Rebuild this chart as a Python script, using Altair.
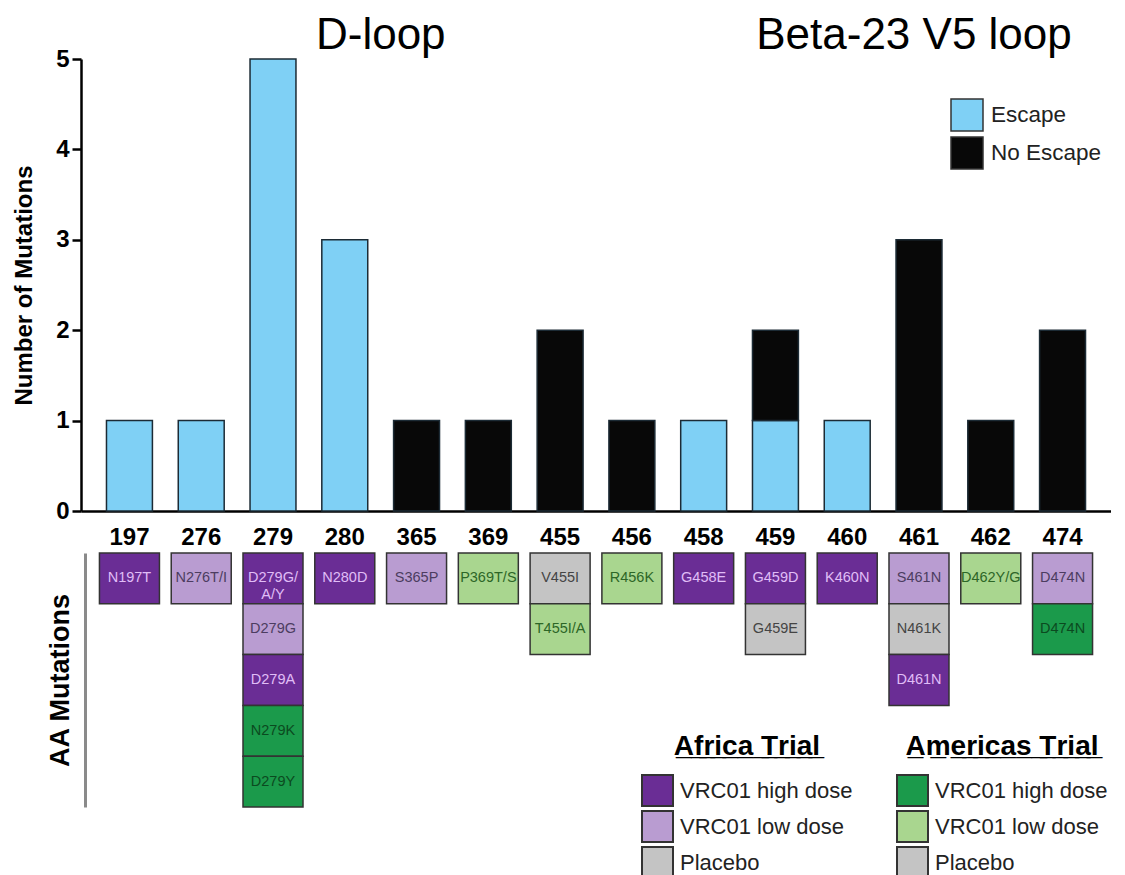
import altair as alt
import pandas as pd

# ---------------- data ----------------
positions = ["197", "276", "279", "280", "365", "369", "455",
             "456", "458", "459", "460", "461", "462", "474"]
escape_counts = [1, 1, 5, 3, 0, 0, 0, 0, 1, 1, 1, 0, 0, 0]
no_escape_counts = [0, 0, 0, 0, 1, 1, 2, 1, 0, 1, 0, 3, 1, 2]

status_names = ["Escape", "No Escape"]
status_colors = ["#7fd0f5", "#080808"]

region_names = ["D-loop", "Beta-23 V5 loop"]
region_anchor = ["280", "461"]

mut_pos = ["197", "276", "279", "279", "279", "279", "279", "280", "365", "369",
           "455", "455", "456", "458", "459", "459", "460", "461", "461", "461",
           "462", "474", "474"]
mut_label = ["N197T", "N276T/I", "D279G/\nA/Y", "D279G", "D279A", "N279K", "D279Y",
             "N280D", "S365P", "P369T/S", "V455I", "T455I/A", "R456K", "G458E",
             "G459D", "G459E", "K460N", "S461N", "N461K", "D461N", "D462Y/G",
             "D474N", "D474N"]
mut_trial = ["Africa", "Africa", "Africa", "Africa", "Africa", "Americas", "Americas",
             "Africa", "Africa", "Americas", "Africa", "Americas", "Americas", "Africa",
             "Africa", "Africa", "Africa", "Africa", "Africa", "Africa", "Americas",
             "Africa", "Americas"]
mut_dose = ["VRC01 high dose", "VRC01 low dose", "VRC01 high dose", "VRC01 low dose",
            "VRC01 high dose", "VRC01 high dose", "VRC01 high dose", "VRC01 high dose",
            "VRC01 low dose", "VRC01 low dose", "Placebo", "VRC01 low dose",
            "VRC01 low dose", "VRC01 high dose", "VRC01 high dose", "Placebo",
            "VRC01 high dose", "VRC01 low dose", "Placebo", "VRC01 high dose",
            "VRC01 low dose", "VRC01 low dose", "VRC01 high dose"]

doses = ["VRC01 high dose", "VRC01 low dose", "Placebo"]
africa_colors = ["#6a2d95", "#b99cd1", "#c4c4c4"]
americas_colors = ["#1b9a4b", "#a9d68f", "#c4c4c4"]

text_groups = ["Africa|VRC01 high dose", "Africa|VRC01 low dose", "Africa|Placebo",
               "Americas|VRC01 high dose", "Americas|VRC01 low dose", "Americas|Placebo"]
text_colors = ["#e0bdf7", "#4c3c60", "#444444", "#0b4a20", "#2d6627", "#444444"]

FONT = "Liberation Sans"

# ---------------- tables ----------------
bar_rows = []
for p, e, n in zip(positions, escape_counts, no_escape_counts):
    if e > 0:
        bar_rows.append({"pos": p, "status": "Escape", "count": e, "stack_order": 0})
    if n > 0:
        bar_rows.append({"pos": p, "status": "No Escape", "count": n, "stack_order": 1})
df_bars = pd.DataFrame(bar_rows)

df_mut = pd.DataFrame({"pos": mut_pos, "label": mut_label,
                       "trial": mut_trial, "dose": mut_dose})
df_mut["row"] = df_mut.groupby("pos").cumcount()
df_mut["row_end"] = df_mut["row"] + 1
df_mut["row_mid"] = df_mut["row"] + 0.5
df_mut["tgroup"] = df_mut["trial"] + "|" + df_mut["dose"]

df_regions = pd.DataFrame({"region": region_names, "pos": region_anchor})

# ---------------- scales ----------------
def xscale():
    return alt.Scale(domain=positions, paddingInner=0.36, paddingOuter=0.355)

W = 1030

# ---------------- top panel ----------------
bars = alt.Chart(df_bars).mark_bar(stroke="#1c2b35", strokeWidth=1.5).encode(
    x=alt.X("pos:N", scale=xscale(), sort=positions,
            axis=alt.Axis(title=None, labelAngle=0, labelFont=FONT, labelFontSize=24,
                          labelFontWeight="bold", labelColor="black", ticks=False,
                          domainColor="black", domainWidth=2.5, labelPadding=14)),
    y=alt.Y("count:Q", stack="zero",
            scale=alt.Scale(domain=[0, 5], nice=False),
            axis=alt.Axis(values=[0, 1, 2, 3, 4, 5], format="d", grid=False,
                          title="Number of Mutations", titleFont=FONT, titleFontSize=24,
                          titleFontWeight="bold", titleColor="black", titlePadding=19,
                          labelFont=FONT, labelFontSize=24, labelFontWeight="bold",
                          labelColor="black", labelPadding=3, tickSize=9, tickWidth=2.5,
                          tickColor="black", domainColor="black", domainWidth=2.5)),
    fill=alt.Fill("status:N", scale=alt.Scale(domain=status_names, range=status_colors),
                  legend=alt.Legend(title=None, orient="none", legendX=869, legendY=39,
                                    symbolType="square", symbolSize=1024,
                                    symbolStrokeColor="#333333", symbolStrokeWidth=1.5,
                                    symbolOpacity=1, labelFont=FONT, labelFontSize=22.5,
                                    labelColor="#222222", labelOffset=7, rowPadding=0,
                                    labelLimit=300, padding=0)),
    order=alt.Order("stack_order:Q"),
)

region_layers = []
for name, dx in zip(region_names, [36, -5]):
    region_layers.append(
        alt.Chart(df_regions).transform_filter(alt.datum.region == name)
        .mark_text(font=FONT, fontSize=44, color="black", baseline="alphabetic",
                   align="center", dx=dx)
        .encode(x=alt.X("pos:N", scale=xscale(), sort=positions),
                y=alt.value(-10),
                text="region:N")
    )

top = alt.layer(bars, *region_layers).properties(width=W, height=452)

# ---------------- bottom panel ----------------
yaxis_bottom = alt.Axis(title="AA Mutations", titleFont=FONT, titleFontSize=27,
                        titleFontWeight="bold", titleColor="black", titlePadding=11,
                        labels=False, ticks=False, grid=False, domainColor="#8a8a8a",
                        domainWidth=3, offset=-4)
yscale_bottom = alt.Scale(domain=[0, 5], reverse=True, nice=False, zero=False)

def trial_legend(title, lx):
    return alt.Legend(title=title, orient="none", legendX=lx, legendY=180,
                      titleFont=FONT, titleFontSize=28, titleFontWeight="bold",
                      titleColor="black", titleAnchor="middle", titlePadding=13,
                      titleLimit=400,
                      symbolType="square", symbolSize=961, symbolStrokeColor="#333333",
                      symbolStrokeWidth=2, symbolOpacity=1, labelFont=FONT,
                      labelFontSize=22, labelColor="#222222", labelOffset=6,
                      labelLimit=300, rowPadding=-3, padding=0)

def underline(s):
    return "".join(ch + "\u0332" for ch in s)

base = alt.Chart(df_mut)
boxes_af = base.transform_filter(alt.datum.trial == "Africa").mark_bar(
    width=60, stroke="#333333", strokeWidth=1.5).encode(
    x=alt.X("pos:N", scale=xscale(), sort=positions, axis=None),
    y=alt.Y("row:Q", scale=yscale_bottom, axis=yaxis_bottom),
    y2="row_end:Q",
    fill=alt.Fill("dose:N", scale=alt.Scale(domain=doses, range=africa_colors),
                  legend=trial_legend(underline("Africa Trial"), 560)),
)
boxes_am = base.transform_filter(alt.datum.trial == "Americas").mark_bar(
    width=60, stroke="#333333", strokeWidth=1.5).encode(
    x=alt.X("pos:N", scale=xscale(), sort=positions, axis=None),
    y=alt.Y("row:Q", scale=yscale_bottom, axis=yaxis_bottom),
    y2="row_end:Q",
    fill=alt.Fill("dose:N", scale=alt.Scale(domain=doses, range=americas_colors),
                  legend=trial_legend(underline("Americas Trial"), 815)),
)
labels = base.mark_text(font=FONT, fontSize=14.5, lineBreak="\n", baseline="middle",
                        align="center").encode(
    x=alt.X("pos:N", scale=xscale(), sort=positions, axis=None),
    y=alt.Y("row_mid:Q", scale=yscale_bottom, axis=yaxis_bottom),
    text="label:N",
    color=alt.Color("tgroup:N", scale=alt.Scale(domain=text_groups, range=text_colors),
                    legend=None),
)

bottom = alt.layer(boxes_af, boxes_am, labels).resolve_scale(
    fill="independent").resolve_legend(fill="independent").properties(width=W, height=254)

chart = alt.vconcat(top, bottom, spacing=3).resolve_scale(
    fill="independent", color="independent").resolve_legend(
    fill="independent", color="independent").properties(
    padding={"left": 4, "top": 6, "right": 0, "bottom": 0},
    background="white"
).configure_view(strokeWidth=0, stroke="transparent")

chart.save("out.html", embed_options={"renderer": "svg", "actions": False})
